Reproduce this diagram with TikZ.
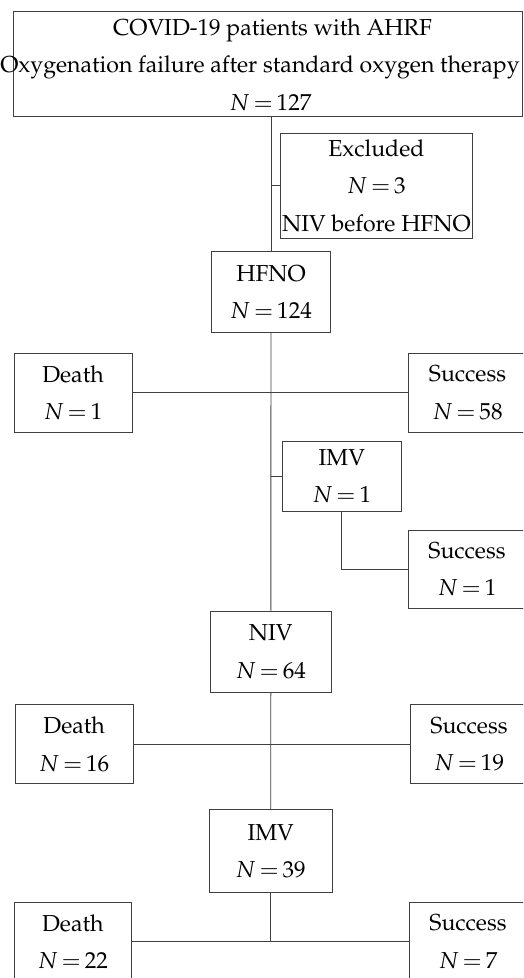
\documentclass[tikz,border=0pt]{standalone}
\usepackage[T1]{fontenc}
\usepackage{mathpazo}
\newcommand{\nn}[1]{$N\mkern3mu{=}\mkern3mu#1$}
\begin{document}
\begin{tikzpicture}[x=1pt,y=-1pt,
  every node/.style={font=\fontsize{23.1}{37.5}\selectfont, align=center, inner sep=0pt},
  box/.style={draw=black!75, line width=0.9pt, rectangle},
  conn/.style={draw=black!75, line width=0.9pt}]
\useasboundingbox (0,0) rectangle (523,978);
\begin{scope}
\clip (0,0) rectangle (523,978);
% top box
\node[box, minimum width=509pt, minimum height=105pt] (top) at (267.5,63.5) {};
\node[anchor=base] (topa) at (272.5,35) {COVID-19 patients with AHRF};
\node[anchor=base] (topb) at (260,72) {Oxygenation failure after standard oxygen therapy};
\node[anchor=base] (topc) at (270.5,110) {\nn{127}};
% excluded
\node[box, minimum width=192.7pt, minimum height=105pt] (excl) at (376.4,185.5) {Excluded\\ \nn{3}\\ NIV before HFNO};
% HFNO
\node[box, minimum width=119.4pt, minimum height=80.6pt] (hfno) at (271,292) {HFNO\\ \nn{124}};
\node[box, minimum width=118pt, minimum height=78.3pt] (d1) at (73,392.8) {Death\\ \nn{1}};
\node[box, minimum width=118pt, minimum height=78.3pt] (s1) at (467.5,392.8) {Success\\ \nn{58}};
\node[box, minimum width=118.3pt, minimum height=70.7pt] (imv1) at (341.8,476.3) {IMV\\ \nn{1}};
\node[box, minimum width=118pt, minimum height=78.3pt] (s2) at (467,569.2) {Success\\ \nn{1}};
% NIV
\node[box, minimum width=121.7pt, minimum height=81.3pt] (niv) at (270.8,651.7) {NIV\\ \nn{64}};
\node[box, minimum width=118.3pt, minimum height=79pt] (d2) at (74.2,744.2) {Death\\ \nn{16}};
\node[box, minimum width=118pt, minimum height=79pt] (s3) at (469,744.2) {Success\\ \nn{19}};
% IMV
\node[box, minimum width=123.3pt, minimum height=82.6pt] (imv2) at (270.7,851) {IMV\\ \nn{39}};
\node[box, minimum width=117.7pt, minimum height=79pt] (d3) at (72.8,941.8) {Death\\ \nn{22}};
\node[box, minimum width=118pt, minimum height=79pt] (s4) at (468,941.8) {Success\\ \nn{7}};
% connectors
\draw[conn] (hfno.north |- top.south) -- (hfno.north);
\draw[conn] (hfno.north |- excl.west) -- (excl.west);
\draw[conn] (hfno.south) -- (niv.north);
\draw[conn] (d1.east) -- (s1.west);
\draw[conn] (hfno.south |- imv1.west) -- (imv1.west);
\draw[conn] (imv1.south) |- (s2.west);
\draw[conn] (niv.south) -- (imv2.north);
\draw[conn] (d2.east) -- (s3.west);
\draw[conn] (imv2.south) -- (imv2.south |- d3.east);
\draw[conn] (d3.east) -- (s4.west);
\end{scope}
\end{tikzpicture}
\end{document}
